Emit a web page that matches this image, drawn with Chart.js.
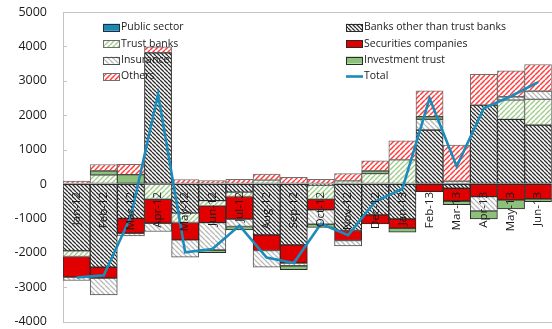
<!DOCTYPE html>
<html>
<head>
<meta charset="utf-8">
<script src="https://cdn.jsdelivr.net/npm/chart.js@4.4.1/dist/chart.umd.min.js"></script>
<style>
  html, body { margin: 0; padding: 0; background: #fff; overflow: hidden; }
  #wrap { position: relative; width: 560px; height: 329px; }
</style>
</head>
<body>
<div id="wrap"><canvas id="c"></canvas></div>
<script>
// Monthly flows by investor type (stacked) and their total
const categories = ['Jan-12','Feb-12','Mar-12','Apr-12','May-12','Jun-12','Jul-12','Aug-12','Sep-12',
                    'Oct-12','Nov-12','Dec-12','Jan-13','Feb-13','Mar-13','Apr-13','May-13','Jun-13'];
const publicSector    = [0, 0, 0, 0, 0, 0, 0, 0, 0, 0, 0, 0, 0, 0, 0, 0, 0, 0];
const banksOther      = [-1945, -2420, -1000, 3815, -850, -485, -240, -1480, -1770, -40, -1355, -900, -1016, 1568, -125, 2294, 1878, 1713];
const trustBanks      = [-165, 255, 0, -445, -270, -155, -125, 110, 0, -400, 90, 300, 700, 0, 0, 0, 561, 745];
const securities      = [-600, -320, -435, -697, -505, -485, -660, -455, -530, -310, -290, -260, -270, -222, -370, -368, -465, -435];
const insurance       = [-97, -485, -80, -242, -505, -795, -212, -485, -78, -420, -155, 0, 0, 310, 80, -416, 97, 242];
const investmentTrust = [0, 125, 270, 0, 0, -78, -97, 0, -116, -97, 0, 80, -116, 78, -110, -232, -261, -78];
const others          = [80, 185, 300, 175, 130, 100, 135, 175, 190, 135, 210, 290, 557, 755, 1050, 890, 755, 774];
const total           = [-2720, -2660, -945, 2610, -1990, -1890, -1210, -2140, -2300, -1160, -1490, -510, -140, 2490, 510, 2200, 2550, 2960];
const yMin = -4000, yMax = 5000, yStep = 1000;

const canvas = document.getElementById('c');
const ctx = canvas.getContext('2d');

// Diagonal hatch fill: dir '\\' falls to the right, '/' rises to the right
function hatch(color, size, width, dir) {
  const t = document.createElement('canvas');
  t.width = t.height = size;
  const g = t.getContext('2d');
  g.fillStyle = '#ffffff';
  g.fillRect(0, 0, size, size);
  g.strokeStyle = color;
  g.lineWidth = width;
  g.beginPath();
  for (let k = -1; k <= 1; k++) {
    if (dir === '\\') { g.moveTo(k * size, 0); g.lineTo(k * size + size, size); }
    else { g.moveTo(k * size, size); g.lineTo(k * size + size, 0); }
  }
  g.stroke();
  return ctx.createPattern(t, 'repeat');
}

const FONT = "'Open Sans', 'Noto Sans', sans-serif";
const edge = '#505050';

function barSet(label, data, fill, border) {
  return {
    type: 'bar', label, data,
    backgroundColor: fill, borderColor: border || edge, borderWidth: 1,
    borderSkipped: false, stack: 'flows', order: 1,
    categoryPercentage: 1.0, barPercentage: 1.0
  };
}

const datasets = [
  barSet('Public sector', publicSector, '#1b88b6', '#1f2f38'),
  barSet('Banks other than trust banks', banksOther, hatch('#2e2e2e', 4, 1.3, '\\'), '#2a2a2a'),
  barSet('Trust banks', trustBanks, hatch('#9ccc86', 5, 1.4, '/'), '#6f6f6f'),
  barSet('Securities companies', securities, '#e00000', '#2a2a2a'),
  barSet('Insurance', insurance, hatch('#b8b8b8', 5, 1.3, '\\'), '#505050'),
  barSet('Investment trust', investmentTrust, '#8dc07a', '#2a2a2a'),
  barSet('Others', others, hatch('#ff3b3b', 5, 1.5, '/'), '#6f6f6f'),
  {
    type: 'line', label: 'Total', data: total,
    borderColor: '#1a8bba', backgroundColor: '#1a8bba', borderWidth: 2.6,
    pointRadius: 0, tension: 0, fill: false, stack: 'total', order: 0
  }
];

// Plot frame plus short inward tick marks on the value axis
const framePlugin = {
  id: 'frame',
  beforeDatasetsDraw(chart) {
    const { ctx, chartArea: a, scales } = chart;
    ctx.save();
    ctx.strokeStyle = '#c4c4c4';
    ctx.lineWidth = 1;
    ctx.strokeRect(Math.round(a.left) + 0.5, Math.round(a.top) + 0.5,
                   Math.round(a.right - a.left), Math.round(a.bottom - a.top));
    ctx.beginPath();
    for (let v = yMin; v <= yMax; v += yStep) {
      const y = Math.round(scales.y.getPixelForValue(v)) + 0.5;
      ctx.moveTo(a.left, y);
      ctx.lineTo(a.left + 4, y);
    }
    ctx.stroke();
    ctx.restore();
  }
};

// Two-column legend in the upper part of the plot
const legendPlugin = {
  id: 'cornerLegend',
  afterDraw(chart) {
    const ctx = chart.ctx;
    const colX = [103, 346];
    const rowY = [27.3, 43.7, 60.1, 76.5];
    ctx.save();
    ctx.font = "10.5px " + FONT;
    ctx.textBaseline = 'middle';
    ctx.textAlign = 'left';
    chart.data.datasets.forEach((ds, i) => {
      const x = colX[i % 2];
      const y = rowY[Math.floor(i / 2)];
      if (ds.type === 'line') {
        ctx.strokeStyle = ds.borderColor;
        ctx.lineWidth = 2.6;
        ctx.beginPath();
        ctx.moveTo(x, y);
        ctx.lineTo(x + 17, y);
        ctx.stroke();
      } else {
        ctx.fillStyle = ds.backgroundColor;
        ctx.fillRect(x, y - 3.5, 17, 7);
        ctx.strokeStyle = ds.borderColor;
        ctx.lineWidth = 1;
        ctx.strokeRect(x + 0.5, Math.round(y - 3.5) + 0.5, 16, 7);
      }
      ctx.fillStyle = '#222222';
      ctx.fillText(ds.label, x + 18, y);
    });
    ctx.restore();
  }
};

new Chart(ctx, {
  data: { labels: categories, datasets },
  options: {
    responsive: true,
    maintainAspectRatio: false,
    animation: false,
    devicePixelRatio: 1,
    layout: { padding: { left: 0, top: 12, right: 2, bottom: 7 } },
    plugins: { legend: { display: false }, tooltip: { enabled: false } },
    scales: {
      x: {
        stacked: true,
        position: { y: 0 },
        grid: { display: false, drawTicks: false },
        border: { display: false },
        ticks: {
          z: 1,
          autoSkip: false, minRotation: 90, maxRotation: 90, padding: 8,
          color: '#1a1a1a', font: { family: FONT, size: 11.5 }
        },
        afterFit(scale) { scale.height = 0; }
      },
      y: {
        stacked: true,
        min: yMin, max: yMax,
        grid: {
          display: true, drawOnChartArea: false, drawTicks: true,
          tickLength: 16, color: 'rgba(0,0,0,0)'
        },
        border: { display: true, color: '#c4c4c4' },
        ticks: {
          stepSize: yStep, padding: 0,
          color: '#1a1a1a', font: { family: FONT, size: 12.5 },
          callback: (v) => String(v)
        },
        afterFit(scale) { scale.width = 63; }
      }
    }
  },
  plugins: [framePlugin, legendPlugin]
});
</script>
</body>
</html>
